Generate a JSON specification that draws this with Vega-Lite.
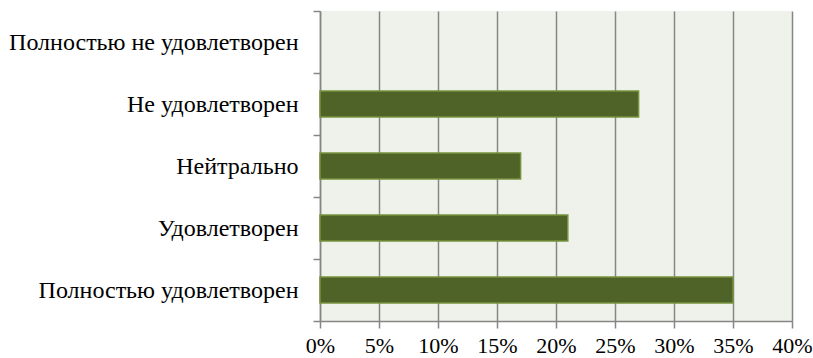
{
  "$schema": "https://vega.github.io/schema/vega-lite/v6.json",
  "width": 472,
  "height": 310,
  "autosize": {"type": "none"},
  "padding": {"left": 320, "top": 11, "right": 21, "bottom": 37},
  "background": "white",
  "config": {
    "view": {"fill": "#EFF2EA", "stroke": null},
    "font": "Liberation Serif"
  },
  "data": {
    "values": [
      {"category": "Полностью не удовлетворен", "value": 0},
      {"category": "Не удовлетворен", "value": 0.27},
      {"category": "Нейтрально", "value": 0.17},
      {"category": "Удовлетворен", "value": 0.21},
      {"category": "Полностью удовлетворен", "value": 0.35}
    ]
  },
  "mark": {"type": "bar", "color": "#4F6228", "stroke": "#77933C", "strokeWidth": 1.5, "height": {"band": 0.42}},
  "encoding": {
    "strokeOpacity": {"condition": {"test": "datum.value > 0", "value": 1}, "value": 0},
    "y": {
      "field": "category",
      "type": "nominal",
      "sort": null,
      "scale": {"paddingInner": 0, "paddingOuter": 0},
      "axis": {
        "title": null,
        "tickBand": "extent",
        "tickSize": 7,
        "tickColor": "#868686",
        "tickWidth": 1.5,
        "domainColor": "#868686",
        "domainWidth": 1.5,
        "grid": false,
        "labelFont": "Liberation Serif",
        "labelFontSize": 24,
        "labelColor": "#000000",
        "labelPadding": 15,
        "labelLimit": 400
      }
    },
    "x": {
      "field": "value",
      "type": "quantitative",
      "scale": {"domain": [0, 0.4], "nice": false},
      "axis": {
        "title": null,
        "format": ".0%",
        "values": [0, 0.05, 0.1, 0.15, 0.2, 0.25, 0.3, 0.35, 0.4],
        "grid": true,
        "gridColor": "#868686",
        "gridWidth": 1.5,
        "tickSize": 7,
        "tickColor": "#868686",
        "tickWidth": 1.5,
        "domainColor": "#868686",
        "domainWidth": 1.5,
        "labelFont": "Liberation Serif",
        "labelFontSize": 22,
        "labelColor": "#000000",
        "labelPadding": 7,
        "labelFlush": false
      }
    }
  }
}
